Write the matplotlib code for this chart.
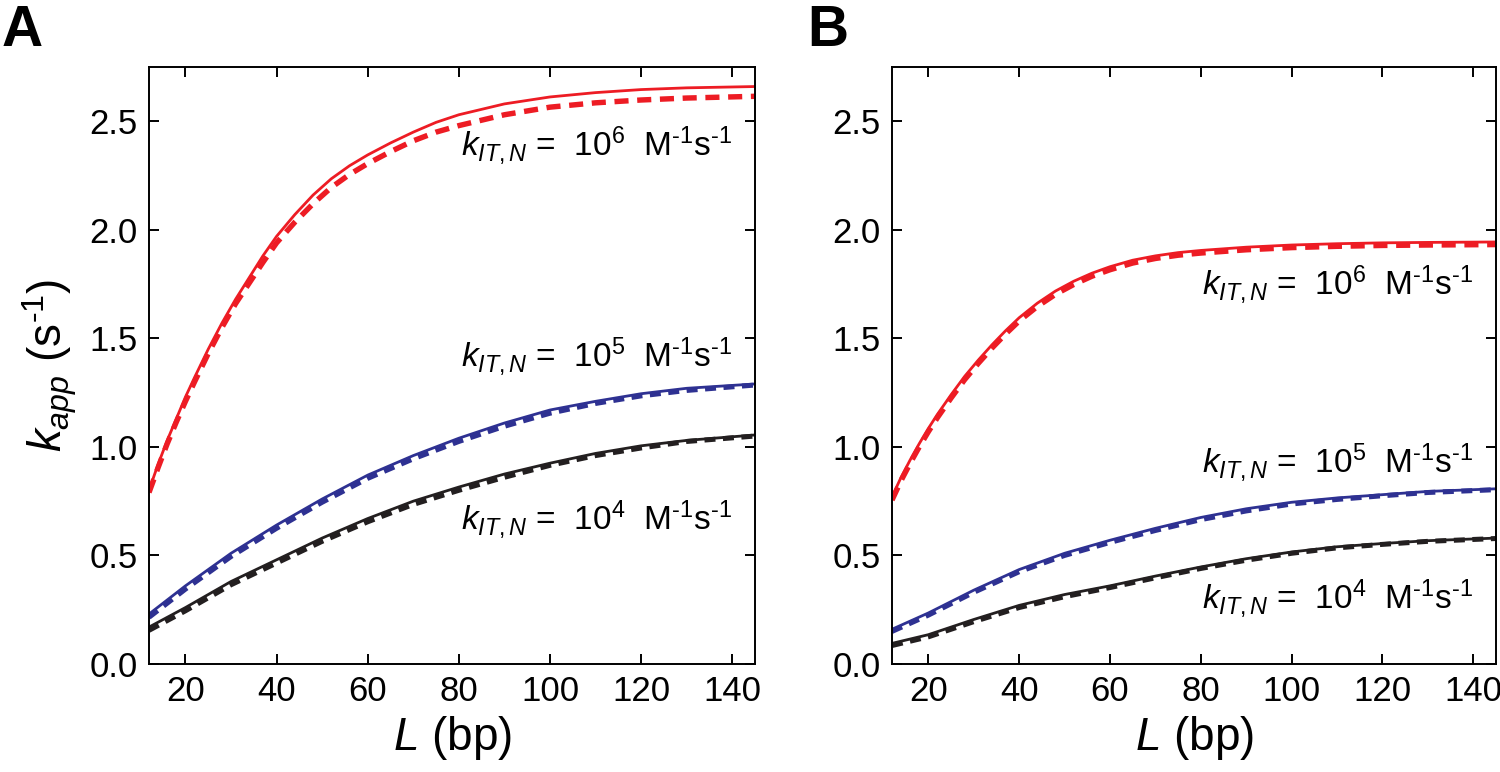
import matplotlib
matplotlib.use("Agg")
import matplotlib.pyplot as plt

plt.rcParams['font.family'] = ['Liberation Sans', 'DejaVu Sans']
plt.rcParams['mathtext.fontset'] = 'custom'
plt.rcParams['mathtext.rm'] = 'Liberation Sans'
plt.rcParams['mathtext.it'] = 'Liberation Sans:italic'

# ---- data ----
L_red = [12, 14, 16, 18, 20, 22, 25, 28, 31, 34, 37, 40, 44, 48, 52, 56, 60, 65, 70, 75, 80, 90, 100, 110, 120, 130, 145]
L_grid = [12, 20, 30, 40, 50, 60, 70, 80, 90, 100, 110, 120, 130, 145]

# panel A
a_red_solid = [0.80, 0.92, 1.03, 1.13, 1.23, 1.32, 1.45, 1.57, 1.68, 1.78, 1.88, 1.97, 2.07, 2.16, 2.235, 2.295,
               2.345, 2.40, 2.45, 2.495, 2.53, 2.58, 2.612, 2.632, 2.646, 2.654, 2.66]
a_red_dash = [0.79, 0.905, 1.015, 1.115, 1.21, 1.30, 1.43, 1.55, 1.66, 1.755, 1.85, 1.94, 2.035, 2.12, 2.195, 2.255,
              2.305, 2.36, 2.41, 2.45, 2.48, 2.53, 2.565, 2.585, 2.598, 2.607, 2.615]
a_blue_solid = [0.23, 0.36, 0.51, 0.64, 0.76, 0.87, 0.96, 1.04, 1.11, 1.17, 1.21, 1.245, 1.27, 1.29]
a_blue_dash = [0.215, 0.345, 0.495, 0.625, 0.745, 0.855, 0.945, 1.025, 1.095, 1.155, 1.20, 1.235, 1.26, 1.285]
a_black_solid = [0.17, 0.26, 0.38, 0.48, 0.58, 0.67, 0.75, 0.815, 0.875, 0.925, 0.97, 1.005, 1.03, 1.055]
a_black_dash = [0.155, 0.245, 0.365, 0.465, 0.565, 0.655, 0.735, 0.80, 0.86, 0.915, 0.96, 0.995, 1.025, 1.05]

# panel B
b_red_solid = [0.77, 0.86, 0.94, 1.015, 1.085, 1.15, 1.24, 1.325, 1.40, 1.47, 1.535, 1.595, 1.662, 1.718, 1.763, 1.80,
               1.83, 1.86, 1.88, 1.895, 1.905, 1.92, 1.93, 1.936, 1.94, 1.942, 1.944]
b_red_dash = [0.755, 0.845, 0.925, 1.0, 1.07, 1.135, 1.225, 1.31, 1.385, 1.455, 1.52, 1.58, 1.647, 1.703, 1.748,
              1.786, 1.816, 1.847, 1.868, 1.883, 1.893, 1.908, 1.918, 1.924, 1.928, 1.93, 1.932]
b_blue_solid = [0.16, 0.235, 0.34, 0.435, 0.51, 0.57, 0.625, 0.675, 0.715, 0.745, 0.765, 0.78, 0.795, 0.807]
b_blue_dash = [0.15, 0.225, 0.33, 0.425, 0.50, 0.56, 0.615, 0.665, 0.705, 0.737, 0.758, 0.775, 0.79, 0.803]
b_black_solid = [0.095, 0.135, 0.205, 0.27, 0.32, 0.36, 0.405, 0.447, 0.485, 0.516, 0.54, 0.555, 0.568, 0.58]
b_black_dash = [0.085, 0.125, 0.195, 0.26, 0.31, 0.352, 0.397, 0.44, 0.478, 0.51, 0.535, 0.551, 0.565, 0.578]

labels = [6, 5, 4]
a_label_y = [2.34, 1.37, 0.62]
b_label_y = [1.70, 0.88, 0.254]

RED = '#ed1c24'
BLUE = '#2e3192'
BLACK = '#231f20'

fig = plt.figure(figsize=(15, 7.72), dpi=100)
axA = fig.add_axes([149/1500, 1-664/772, 606/1500, 597/772])
axB = fig.add_axes([892/1500, 1-664/772, 604/1500, 597/772])


def draw(ax, rs, rd, bs, bd, ks, kd, ly):
    ax.plot(L_red, rs, color=RED, lw=2.0)
    ax.plot(L_red, rd, color=RED, lw=3.9, dashes=(2.6, 1.6), dash_capstyle='butt')
    ax.plot(L_grid, bs, color=BLUE, lw=2.0)
    ax.plot(L_grid, bd, color=BLUE, lw=3.6, dashes=(2.2, 1.5), dash_capstyle='butt')
    ax.plot(L_grid, ks, color=BLACK, lw=2.0)
    ax.plot(L_grid, kd, color=BLACK, lw=3.6, dashes=(2.2, 1.5), dash_capstyle='butt')
    for e, y in zip(labels, ly):
        ax.text(140, y, r'$k_{IT,N}$ =  10$^{%d}$  M$^{\text{-1}}$s$^{\text{-1}}$' % e,
                ha='right', va='baseline', fontsize=24)
    ax.set_xlim(12, 145)
    ax.set_ylim(0, 2.75)
    ax.set_xticks([20, 40, 60, 80, 100, 120, 140])
    ax.set_yticks([0.0, 0.5, 1.0, 1.5, 2.0, 2.5])
    ax.set_yticklabels(['0.0', '0.5', '1.0', '1.5', '2.0', '2.5'])
    ax.tick_params(direction='in', length=7, width=1.4, labelsize=25,
                   top=True, right=True, pad=8)
    for s in ax.spines.values():
        s.set_linewidth(1.4)
    ax.set_xlabel(r'$L$ (bp)', fontsize=33, labelpad=4)


draw(axA, a_red_solid, a_red_dash, a_blue_solid, a_blue_dash,
     a_black_solid, a_black_dash, a_label_y)
draw(axB, b_red_solid, b_red_dash, b_blue_solid, b_blue_dash,
     b_black_solid, b_black_dash, b_label_y)
axA.set_ylabel(r'$k_{app}$ (s$^{\text{-1}}$)', fontsize=33, labelpad=8)

fig.text(0.001, 0.995, 'A', fontsize=41, fontweight='bold', va='top', ha='left')
fig.text(0.538, 0.995, 'B', fontsize=41, fontweight='bold', va='top', ha='left')

fig.savefig('out.png', dpi=100)
